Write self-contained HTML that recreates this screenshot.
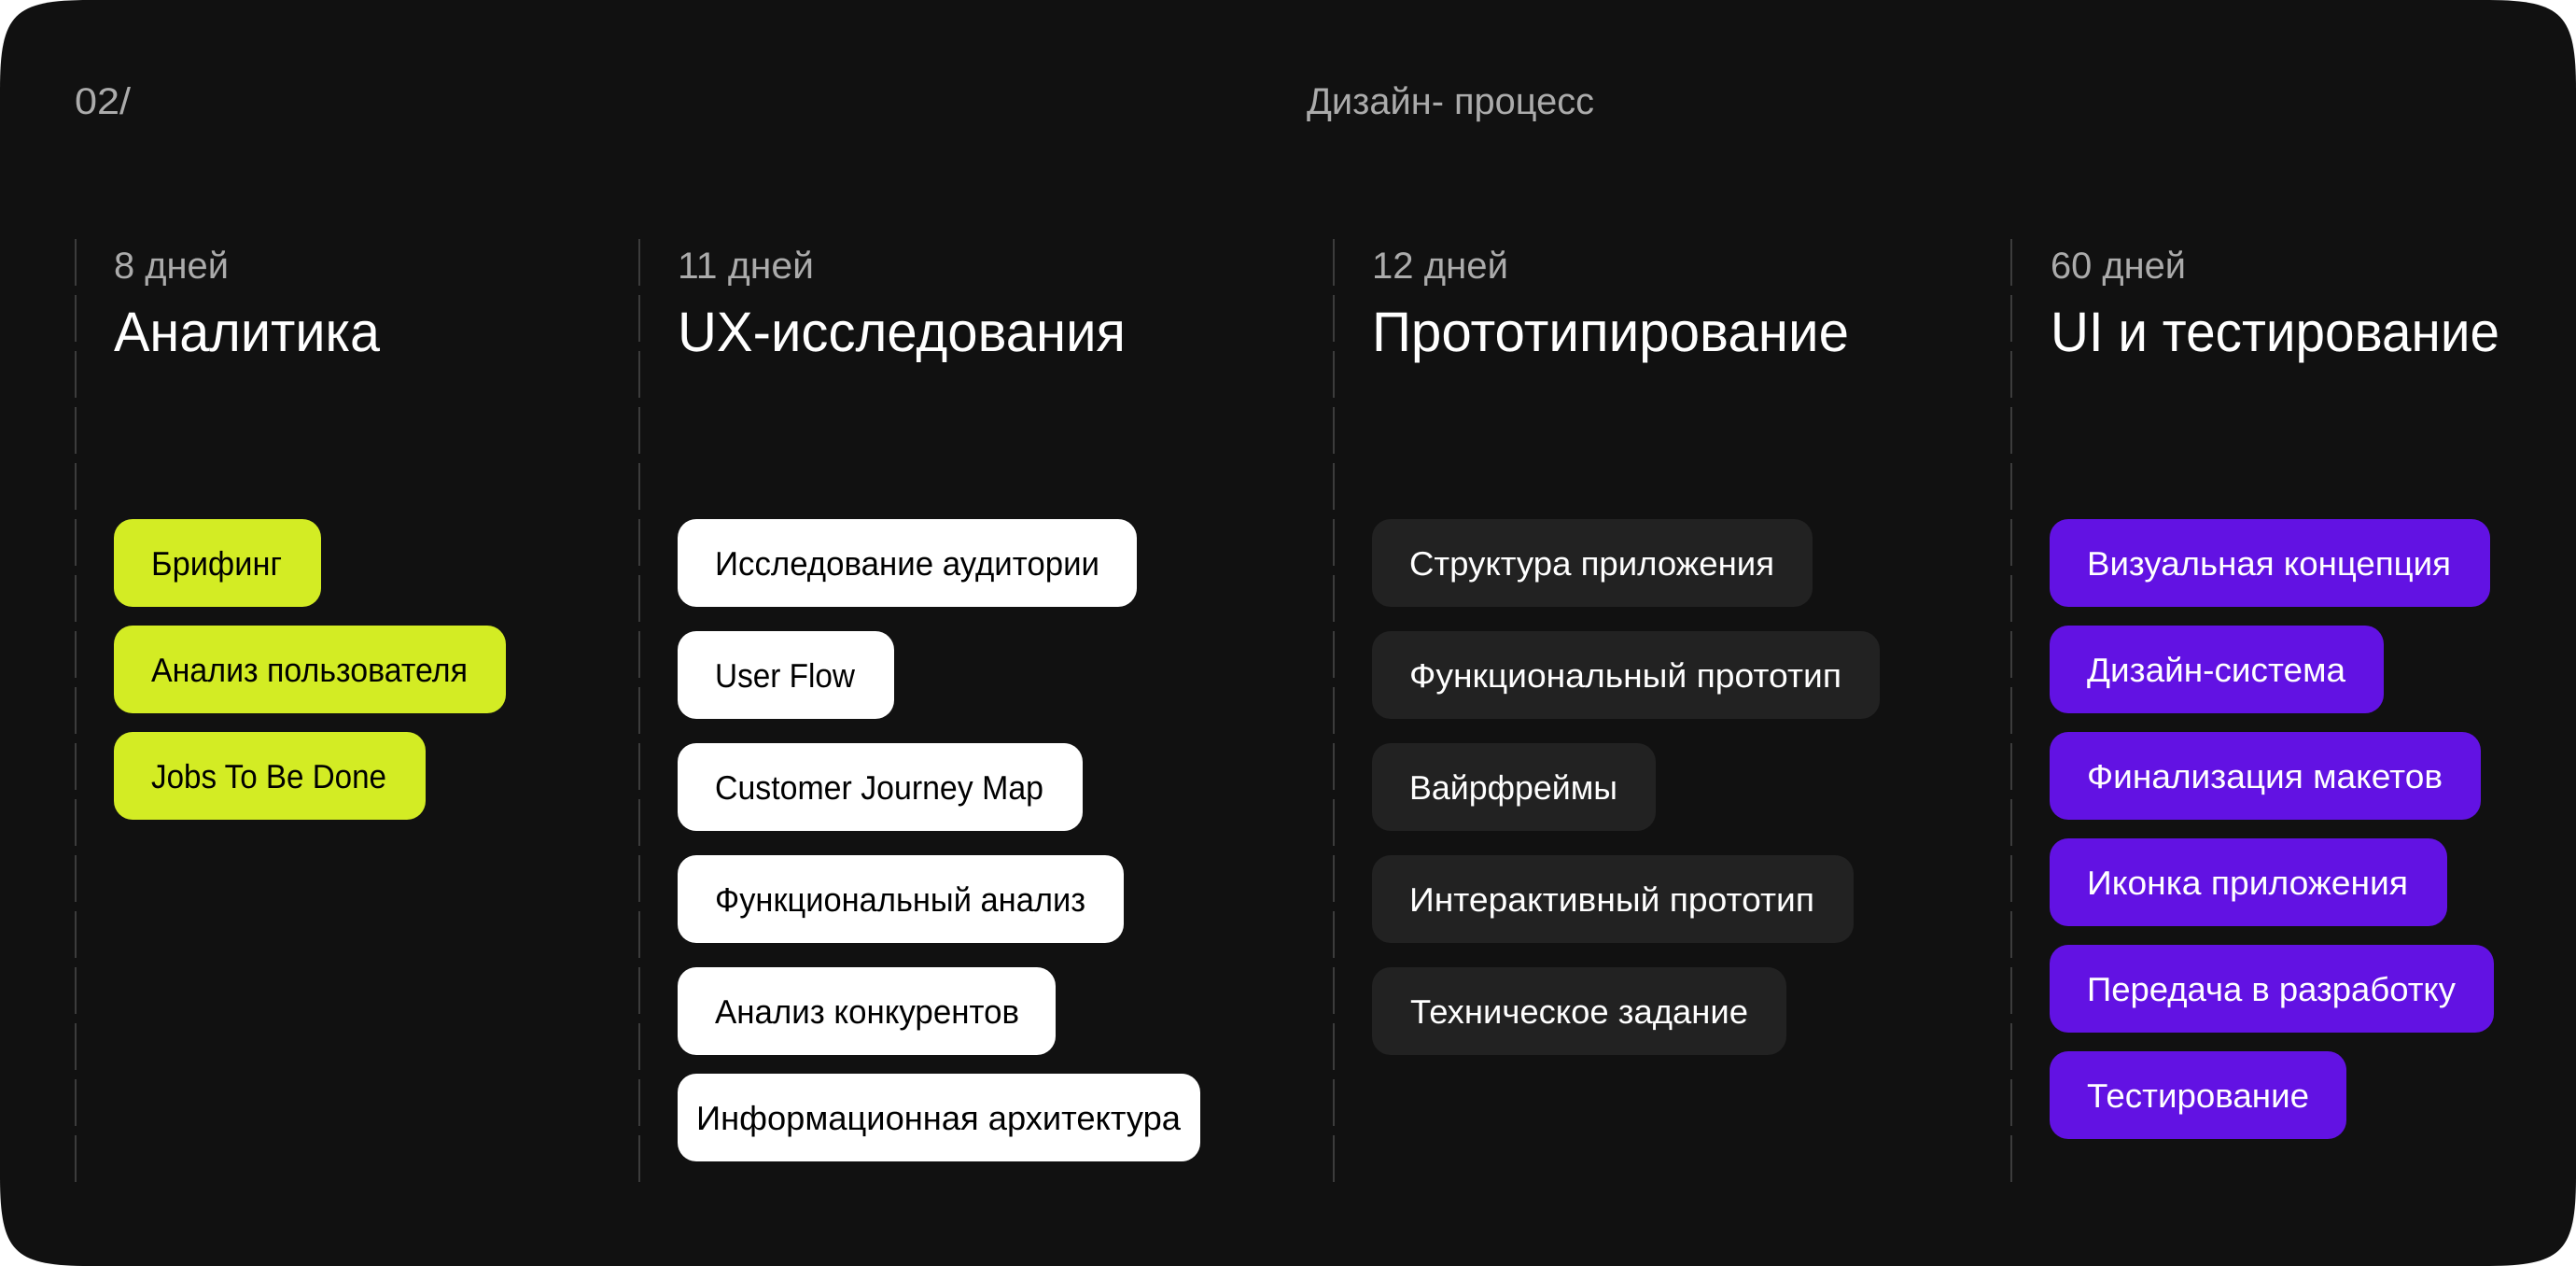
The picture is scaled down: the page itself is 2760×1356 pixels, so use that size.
<!DOCTYPE html>
<html lang="ru">
<head>
<meta charset="utf-8">
<title>Дизайн-процесс</title>
<style>
html,body{margin:0;padding:0;background:#fff;width:2760px;height:1356px;overflow:hidden}
svg{display:block}
text{font-family:"Liberation Sans","DejaVu Sans",sans-serif;font-weight:400;text-rendering:geometricPrecision}
.h{font-size:40px;fill:#ababab}
.t{font-size:60px;fill:#fff}
.b{font-size:36px}
.k{fill:#000}
.w{fill:#fff}
</style>
</head>
<body>
<svg xmlns="http://www.w3.org/2000/svg" width="2760" height="1356" viewBox="0 0 2760 1356">
<rect width="2760" height="1356" fill="#fff"/>
<path d="M96 0H2664C2745 0 2760 15 2760 96V1260C2760 1341 2745 1356 2664 1356H96C15 1356 0 1341 0 1260V96C0 15 15 0 96 0Z" fill="#111"/>

<g stroke="#3c3c3c" stroke-width="2" stroke-dasharray="50 10" fill="none">
<line x1="81" y1="256" x2="81" y2="1266"/>
<line x1="685" y1="256" x2="685" y2="1266"/>
<line x1="1429" y1="256" x2="1429" y2="1266"/>
<line x1="2155" y1="256" x2="2155" y2="1266"/>
</g>

<text class="h" x="80" y="122" textLength="60" lengthAdjust="spacingAndGlyphs">02/</text>
<text class="h" x="1400" y="122" textLength="308" lengthAdjust="spacingAndGlyphs">Дизайн- процесс</text>

<text class="h" x="122" y="298" textLength="123" lengthAdjust="spacingAndGlyphs">8 дней</text>
<text class="t" x="122" y="376" textLength="285" lengthAdjust="spacingAndGlyphs">Аналитика</text>
<text class="h" x="726" y="298" textLength="146" lengthAdjust="spacingAndGlyphs">11 дней</text>
<text class="t" x="726" y="376" textLength="480" lengthAdjust="spacingAndGlyphs">UX-исследования</text>
<text class="h" x="1470" y="298" textLength="146" lengthAdjust="spacingAndGlyphs">12 дней</text>
<text class="t" x="1470" y="376" textLength="511" lengthAdjust="spacingAndGlyphs">Прототипирование</text>
<text class="h" x="2197" y="298" textLength="145" lengthAdjust="spacingAndGlyphs">60 дней</text>
<text class="t" x="2197" y="376" textLength="481" lengthAdjust="spacingAndGlyphs">UI и тестирование</text>

<g fill="#d3ec24">
<rect x="122" y="556" width="222" height="94" rx="20"/>
<rect x="122" y="670" width="420" height="94" rx="20"/>
<rect x="122" y="784" width="334" height="94" rx="20"/>
</g>
<g class="b k">
<text x="162" y="616" textLength="140" lengthAdjust="spacingAndGlyphs">Брифинг</text>
<text x="162" y="730" textLength="339" lengthAdjust="spacingAndGlyphs">Анализ пользователя</text>
<text x="162" y="844" textLength="252" lengthAdjust="spacingAndGlyphs">Jobs To Be Done</text>
</g>

<g fill="#fff">
<rect x="726" y="556" width="492" height="94" rx="20"/>
<rect x="726" y="676" width="232" height="94" rx="20"/>
<rect x="726" y="796" width="434" height="94" rx="20"/>
<rect x="726" y="916" width="478" height="94" rx="20"/>
<rect x="726" y="1036" width="405" height="94" rx="20"/>
<rect x="726" y="1150" width="560" height="94" rx="20"/>
</g>
<g class="b k">
<text x="766" y="616" textLength="412" lengthAdjust="spacingAndGlyphs">Исследование аудитории</text>
<text x="766" y="736" textLength="150" lengthAdjust="spacingAndGlyphs">User Flow</text>
<text x="766" y="856" textLength="352" lengthAdjust="spacingAndGlyphs">Customer Journey Map</text>
<text x="766" y="976" textLength="397" lengthAdjust="spacingAndGlyphs">Функциональный анализ</text>
<text x="766" y="1096" textLength="326" lengthAdjust="spacingAndGlyphs">Анализ конкурентов</text>
<text x="746" y="1210" textLength="519" lengthAdjust="spacingAndGlyphs">Информационная архитектура</text>
</g>

<g fill="#222">
<rect x="1470" y="556" width="472" height="94" rx="20"/>
<rect x="1470" y="676" width="544" height="94" rx="20"/>
<rect x="1470" y="796" width="304" height="94" rx="20"/>
<rect x="1470" y="916" width="516" height="94" rx="20"/>
<rect x="1470" y="1036" width="444" height="94" rx="20"/>
</g>
<g class="b w">
<text x="1510" y="616" textLength="391" lengthAdjust="spacingAndGlyphs">Структура приложения</text>
<text x="1510" y="736" textLength="463" lengthAdjust="spacingAndGlyphs">Функциональный прототип</text>
<text x="1510" y="856" textLength="223" lengthAdjust="spacingAndGlyphs">Вайрфреймы</text>
<text x="1510" y="976" textLength="434" lengthAdjust="spacingAndGlyphs">Интерактивный прототип</text>
<text x="1511" y="1096" textLength="362" lengthAdjust="spacingAndGlyphs">Техническое задание</text>
</g>

<g fill="#6212e3">
<rect x="2196" y="556" width="472" height="94" rx="20"/>
<rect x="2196" y="670" width="358" height="94" rx="20"/>
<rect x="2196" y="784" width="462" height="94" rx="20"/>
<rect x="2196" y="898" width="426" height="94" rx="20"/>
<rect x="2196" y="1012" width="476" height="94" rx="20"/>
<rect x="2196" y="1126" width="318" height="94" rx="20"/>
</g>
<g class="b w">
<text x="2236" y="616" textLength="390" lengthAdjust="spacingAndGlyphs">Визуальная концепция</text>
<text x="2236" y="730" textLength="277" lengthAdjust="spacingAndGlyphs">Дизайн-система</text>
<text x="2236" y="844" textLength="381" lengthAdjust="spacingAndGlyphs">Финализация макетов</text>
<text x="2236" y="958" textLength="344" lengthAdjust="spacingAndGlyphs">Иконка приложения</text>
<text x="2236" y="1072" textLength="395" lengthAdjust="spacingAndGlyphs">Передача в разработку</text>
<text x="2236" y="1186" textLength="238" lengthAdjust="spacingAndGlyphs">Тестирование</text>
</g>
</svg>
</body>
</html>
